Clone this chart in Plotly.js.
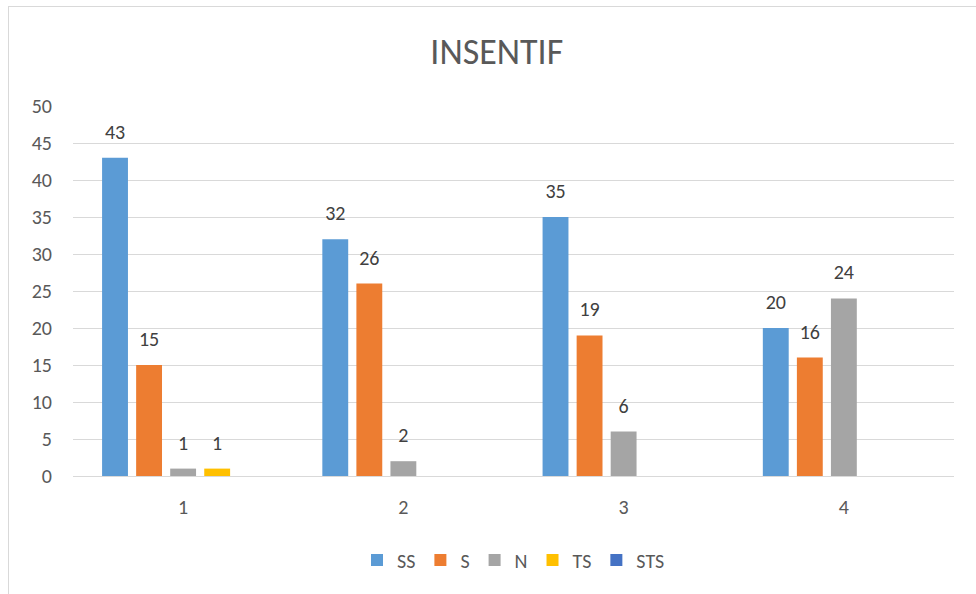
<!DOCTYPE html>
<html>
<head>
<meta charset="utf-8">
<script src="https://cdn.plot.ly/plotly-3.0.1.min.js"></script>
<style>
html,body{margin:0;padding:0;background:#fff;}
#wrap{position:relative;width:976px;height:594px;}
#chart{width:976px;height:594px;}
#frame{position:absolute;left:8px;top:6px;width:976px;height:594px;border-left:1px solid #d9d9d9;border-top:1px solid #d9d9d9;pointer-events:none;}
</style>
</head>
<body>
<div id="wrap"><div id="chart"></div><div id="frame"></div></div>
<script>
const categories = ["1", "2", "3", "4"];
const seriesNames = ["SS", "S", "N", "TS", "STS"];
const SS  = [43, 32, 35, 20];
const S   = [15, 26, 19, 16];
const N   = [1, 2, 6, 24];
const TS  = [1, null, null, null];
const STS = [null, null, null, null];
const colors = ["#5B9BD5", "#ED7D31", "#A5A5A5", "#FFC000", "#4472C4"];
const yTicks = [0, 5, 10, 15, 20, 25, 30, 35, 40, 45, 50];

const FONT = "Calibri, Carlito, Lato, 'Open Sans', sans-serif";
const values = [SS, S, N, TS, STS];

const traces = values.map((v, i) => ({
  type: "bar",
  name: seriesNames[i],
  x: categories,
  y: v,
  marker: {color: colors[i]},
  text: v.map(d => d === null ? "" : String(d)),
  texttemplate: "<span style='font-size:20px'>%{text}</span><br> ",
  textposition: "outside",
  constraintext: "none",
  cliponaxis: false,
  textfont: {family: FONT, size: 10, color: "#404040"},
  hoverinfo: "x+y+name"
}));

const layout = {
  width: 976, height: 594,
  margin: {l: 73, r: 22, t: 106, b: 118},
  paper_bgcolor: "#ffffff",
  plot_bgcolor: "#ffffff",
  barmode: "group",
  bargap: 0.227,
  bargroupgap: 0.24,
  title: {
    text: "INSENTIF",
    font: {family: FONT, size: 36, color: "#595959"},
    x: 0.509, xanchor: "center",
    y: 0.914, yanchor: "middle"
  },
  xaxis: {
    type: "category",
    showgrid: false,
    showline: false,
    zeroline: false,
    ticks: "",
    ticklabelstandoff: 17,
    tickfont: {family: FONT, size: 20, color: "#595959"}
  },
  yaxis: {
    range: [0, 50],
    tickvals: yTicks,
    showgrid: true,
    gridcolor: "#d9d9d9",
    gridwidth: 1,
    zeroline: true,
    zerolinecolor: "#d9d9d9",
    zerolinewidth: 1,
    showline: false,
    ticks: "",
    ticklabelstandoff: 20,
    tickfont: {family: FONT, size: 20, color: "#595959"}
  },
  legend: {
    orientation: "h",
    x: 0.5, xanchor: "center",
    y: -0.227, yanchor: "middle",
    font: {family: FONT, size: 20, color: "#595959"},
    itemwidth: 30,
    traceorder: "normal"
  },
  showlegend: true
};

Plotly.newPlot("chart", traces, layout, {displayModeBar: false, staticPlot: true});
</script>
</body>
</html>
